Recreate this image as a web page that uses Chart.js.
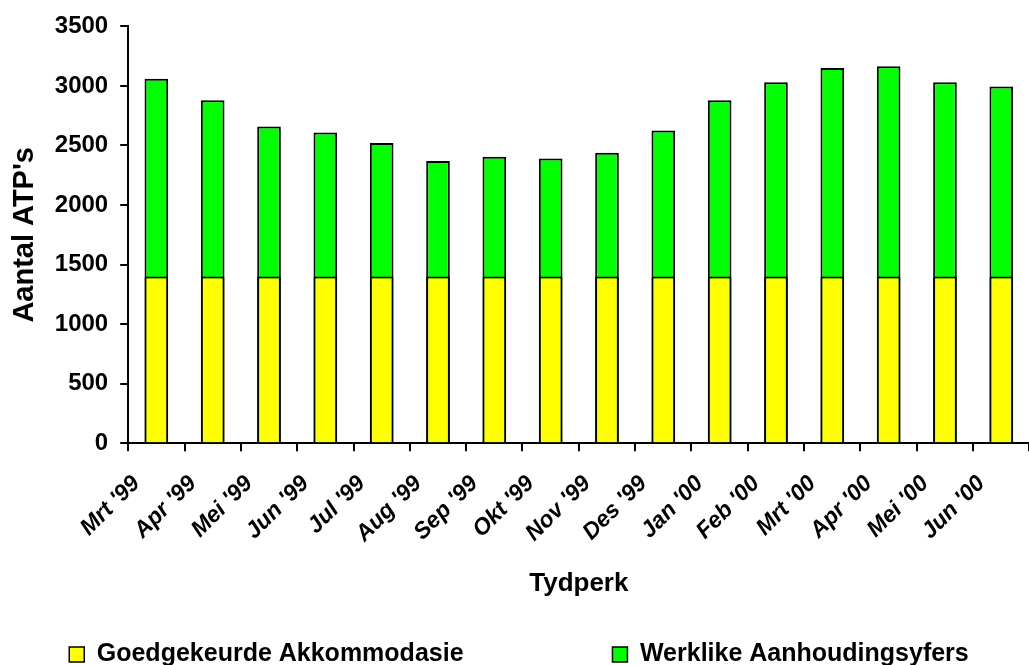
<!DOCTYPE html>
<html>
<head>
<meta charset="utf-8">
<script src="https://cdn.jsdelivr.net/npm/chart.js@4.4.0/dist/chart.umd.min.js"></script>
<style>
  html, body { margin: 0; padding: 0; background: #fff; overflow: hidden; }
  #wrap { width: 1040px; height: 665px; }
</style>
</head>
<body>
<div id="wrap"><canvas id="myChart" width="1040" height="665"></canvas></div>
<script>
// maande (kategorieë)
var months = ["Mrt '99", "Apr '99", "Mei '99", "Jun '99", "Jul '99", "Aug '99", "Sep '99", "Okt '99",
              "Nov '99", "Des '99", "Jan '00", "Feb '00", "Mrt '00", "Apr '00", "Mei '00", "Jun '00"];

// goedgekeurde akkommodasie
var approved = [1400, 1400, 1400, 1400, 1400, 1400, 1400, 1400,
                1400, 1400, 1400, 1400, 1400, 1400, 1400, 1400];

// werklike aanhoudingsyfers
var actual = [3060, 2880, 2660, 2610, 2520, 2370, 2405, 2390,
              2440, 2625, 2880, 3030, 3150, 3165, 3030, 2995];

var yTicks = [0, 500, 1000, 1500, 2000, 2500, 3000, 3500];

var fontFam = 'Arial, "Liberation Sans", sans-serif';

var ctx = document.getElementById('myChart').getContext('2d');
var myChart = new Chart(ctx, {
    type: 'bar',
    data: {
        labels: months,
        datasets: [{
            label: 'Goedgekeurde Akkommodasie',
            data: approved,
            backgroundColor: '#ffff00',
            borderColor: '#000000',
            borderWidth: 2
        }, {
            label: 'Werklike Aanhoudingsyfers',
            data: actual,
            backgroundColor: '#00ff00',
            borderColor: '#000000',
            borderWidth: 2
        }]
    },
    options: {
        responsive: false,
        animation: false,
        grouped: false,
        barPercentage: 0.42,
        categoryPercentage: 1,
        layout: { padding: { left: 4, right: 6, top: 12, bottom: -12 } },
        plugins: {
            tooltip: { enabled: false },
            legend: {
                position: 'bottom',
                labels: {
                    color: '#000',
                    font: { family: fontFam, size: 25, weight: 'bold' },
                    boxWidth: 15,
                    boxHeight: 15,
                    padding: 10,
                    // ekstra spasie tussen die twee items, soos in die oorspronklike
                    generateLabels: function (chart) {
                        var items = Chart.defaults.plugins.legend.labels.generateLabels(chart);
                        items[0].text = items[0].text + '                    ';
                        items.forEach(function (it) { it.lineWidth = 1.5; });
                        return items;
                    }
                }
            }
        },
        scales: {
            x: {
                grid: { offset: true, drawOnChartArea: false, drawTicks: true, tickLength: 8, color: '#000', lineWidth: 2 },
                border: { color: '#000', width: 2 },
                ticks: {
                    color: '#000',
                    maxRotation: 45,
                    minRotation: 45,
                    padding: 19,
                    labelOffset: -20,
                    font: { family: fontFam, size: 23, weight: 'bold', style: 'italic' }
                },
                title: {
                    display: true,
                    text: 'Tydperk',
                    color: '#000',
                    padding: { top: 1, bottom: 33 },
                    font: { family: fontFam, size: 26, weight: 'bold' }
                }
            },
            y: {
                min: 0,
                max: 3500,
                afterBuildTicks: function (axis) {
                    axis.ticks = yTicks.map(function (v) { return { value: v }; });
                },
                grid: { drawOnChartArea: false, drawTicks: true, tickLength: 8, color: '#000', lineWidth: 2 },
                border: { color: '#000', width: 2 },
                ticks: {
                    color: '#000',
                    padding: 12,
                    font: { family: fontFam, size: 24, weight: 'bold' },
                    callback: function (v) { return String(v); }
                },
                title: {
                    display: true,
                    text: "Aantal ATP's",
                    color: '#000',
                    padding: { top: 4, bottom: 0 },
                    font: { family: fontFam, size: 29, weight: 'bold' }
                }
            }
        }
    }
});
</script>
</body>
</html>
